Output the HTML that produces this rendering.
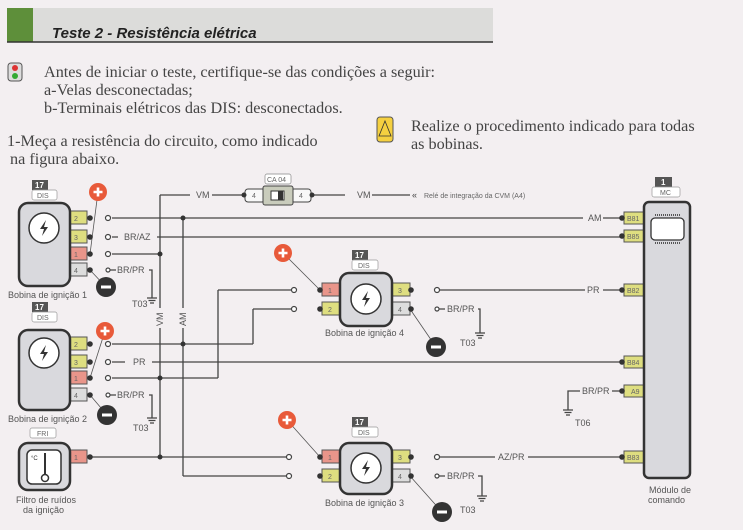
<!DOCTYPE html>
<html><head><meta charset="utf-8"><style>
html,body{margin:0;padding:0;background:#f3eff1;}
svg{display:block}
.s{font-family:"Liberation Serif",serif;font-size:16.2px;fill:#444}
.l{font-family:"Liberation Sans",sans-serif;font-size:9px;fill:#555}
.p{font-family:"Liberation Sans",sans-serif;font-size:7px;fill:#666}
</style></head><body>
<svg width="743" height="530" viewBox="0 0 743 530" xmlns="http://www.w3.org/2000/svg">
<defs>
<g id="plus"><circle r="9" fill="#e85a3a"/><path d="M-4.5 0H4.5M0 -4.5V4.5" stroke="#fff" stroke-width="2.6"/></g>
<g id="minus"><circle r="10" fill="#333"/><path d="M-5 0H5" stroke="#fff" stroke-width="3"/></g>
<g id="gnd"><path d="M-5 0H5M-3.5 2.5H3.5M-2 5H2" stroke="#444" stroke-width="1.2"/></g>
<g id="bolt"><path d="M2 -8 L-4 1 L0 1 L-2 8 L4 -1 L0 -1 Z" fill="#333"/></g>
</defs>
<rect width="743" height="530" fill="#f3eff1"/>
<rect x="33" y="8" width="460" height="34" fill="#dcdcda"/>
<rect x="7" y="8" width="26" height="34" fill="#5e8f3a"/>
<line x1="7" y1="42" x2="493" y2="42" stroke="#333" stroke-width="1.5"/>
<text x="52" y="38" font-family="Liberation Sans,sans-serif" font-size="15" font-weight="bold" font-style="italic" fill="#222">Teste 2 - Resistência elétrica</text>
<rect x="8" y="63" width="14" height="18" rx="3" fill="#ddd" stroke="#555"/>
<circle cx="15" cy="68" r="3" fill="#d33"/><circle cx="15" cy="76" r="3" fill="#3a3"/>
<text class="s" x="44" y="77">Antes de iniciar o teste, certifique-se das condições a seguir:</text>
<text class="s" x="44" y="95">a-Velas desconectadas;</text>
<text class="s" x="44" y="113">b-Terminais elétricos das DIS: desconectados.</text>
<text class="s" x="7" y="146">1-Meça a resistência do circuito, como indicado</text>
<text class="s" x="10" y="164">na figura abaixo.</text>
<rect x="377" y="117" width="16" height="25" rx="3" fill="#f5d040" stroke="#555"/>
<path d="M385 121 L391 136 H379 Z" fill="#f5d040" stroke="#333" stroke-width="0.8"/>
<text class="s" x="411" y="131">Realize o procedimento indicado para todas</text>
<text class="s" x="411" y="149">as bobinas.</text>

<g stroke="#444" stroke-width="1.3" fill="none">
<path d="M112 218H583M603 218H624"/>
<path d="M112 237H118M157 237H624"/>
<path d="M112 254H160"/>
<path d="M149 270H152V298"/>
<path d="M160 195V308M160 328V457M183 218V308M183 328V476"/>
<path d="M160 195H190M212 195H245M310 195H345M372 195H410"/>
<path d="M218 290H291M218 290V378"/>
<path d="M253 309H291M253 309V344"/>
<path d="M440 290H585M603 290H624"/>
<path d="M478 309H480V333"/>
<path d="M112 344H253"/>
<path d="M112 362H125M152 362H624"/>
<path d="M112 378H218"/>
<path d="M149 395H152V418"/>
<path d="M90 457H286"/>
<path d="M183 476H286"/>
<path d="M440 457H495M528 457H624"/>
<path d="M478 476H482V496"/>
<path d="M580 391H568V410M612 391H624"/>
</g>
<g stroke="#555" stroke-width="0.8">
<path d="M98 192L90 254M106 287L90 270M105 331L90 378M107 415L90 395M283 253L320 290M436 347L410 309M287 420L320 457M442 512L410 476"/>
</g>
<g fill="#333"><circle cx="160" cy="254" r="2.5"/><circle cx="183" cy="218" r="2.5"/><circle cx="183" cy="344" r="2.5"/><circle cx="160" cy="378" r="2.5"/><circle cx="160" cy="457" r="2.5"/></g>
<g fill="#fff" stroke="#444" stroke-width="1.2">
<circle cx="108" cy="218" r="2.5"/><circle cx="108" cy="237" r="2.5"/><circle cx="108" cy="254" r="2.5"/><circle cx="108" cy="270" r="2"/>
<circle cx="108" cy="344" r="2.5"/><circle cx="108" cy="362" r="2.5"/><circle cx="108" cy="378" r="2.5"/><circle cx="108" cy="395" r="2"/>
<circle cx="294" cy="290" r="2.5"/><circle cx="294" cy="309" r="2.5"/><circle cx="437" cy="290" r="2.5"/><circle cx="437" cy="309" r="2"/>
<circle cx="289" cy="457" r="2.5"/><circle cx="289" cy="476" r="2.5"/><circle cx="437" cy="457" r="2.5"/><circle cx="437" cy="476" r="2"/>
</g>
<path d="M110 270H116M110 395H116M439 309H445M439 476H445" stroke="#444" stroke-width="1.2"/>
<use href="#gnd" x="152" y="298"/><use href="#gnd" x="152" y="418"/><use href="#gnd" x="480" y="333"/><use href="#gnd" x="482" y="496"/><use href="#gnd" x="568" y="410"/>
<g class="l">
<text x="124" y="240">BR/AZ</text><text x="117" y="273">BR/PR</text><text x="132" y="307">T03</text>
<text x="196" y="198">VM</text><text x="357" y="198">VM</text>
<text x="588" y="221">AM</text><text x="587" y="293">PR</text>
<text x="447" y="312">BR/PR</text><text x="460" y="346">T03</text>
<text x="133" y="365">PR</text><text x="117" y="398">BR/PR</text><text x="133" y="431">T03</text>
<text x="582" y="394">BR/PR</text><text x="575" y="426">T06</text>
<text x="498" y="460">AZ/PR</text><text x="447" y="479">BR/PR</text><text x="460" y="513">T03</text>
<text transform="translate(163,326) rotate(-90)">VM</text>
<text transform="translate(186,326) rotate(-90)">AM</text>
</g>
<text x="412" y="198" font-family="Liberation Sans,sans-serif" font-size="9" fill="#444">«</text>
<text class="p" x="424" y="198">Relé de integração da CVM (A4)</text>
<rect x="265" y="174" width="26" height="10" rx="2" fill="#fff" stroke="#888" stroke-width="0.7"/>
<text class="p" x="267" y="182">CA 04</text>
<rect x="245" y="189" width="20" height="13" rx="3" fill="#f8f8f8" stroke="#444"/>
<rect x="291" y="189" width="20" height="13" rx="3" fill="#f8f8f8" stroke="#444"/>
<rect x="263" y="186" width="30" height="19" rx="2" fill="#c9ccbc" stroke="#444"/>
<rect x="271" y="191" width="13" height="9" fill="#fff" stroke="#333"/><rect x="278" y="191" width="5" height="9" fill="#333"/>
<text class="p" x="252" y="198">4</text><text class="p" x="299" y="198">4</text>
<circle cx="244" cy="195" r="2.5" fill="#333"/><circle cx="312" cy="195" r="2.5" fill="#333"/>

<g>
<rect x="32" y="180" width="16" height="10" fill="#555"/><text x="35" y="188" font-family="Liberation Sans" font-size="8" font-weight="bold" fill="#fff">17</text>
<rect x="32" y="190" width="25" height="10" rx="2" fill="#fff" stroke="#999" stroke-width="0.7"/><text class="p" x="37" y="198">DIS</text>
<rect x="68" y="211" width="19" height="13" fill="#dede80" stroke="#555"/><rect x="68" y="230" width="19" height="13" fill="#dede80" stroke="#555"/>
<rect x="68" y="247" width="19" height="13" fill="#e9958a" stroke="#555"/><rect x="68" y="263" width="19" height="13" fill="#ddd" stroke="#555"/>
<text class="p" x="74" y="221">2</text><text class="p" x="74" y="240">3</text><text class="p" x="74" y="257">1</text><text class="p" x="74" y="273">4</text>
<circle cx="90" cy="218" r="2.8" fill="#333"/><circle cx="90" cy="237" r="2.8" fill="#333"/><circle cx="90" cy="254" r="2.8" fill="#333"/><circle cx="90" cy="270" r="2.8" fill="#333"/>
<rect x="19" y="203" width="51" height="83" rx="9" fill="#d9d9dd" stroke="#333" stroke-width="2.5"/>
<circle cx="44" cy="228" r="15" fill="#fff" stroke="#333" stroke-width="1.5"/><use href="#bolt" x="44" y="228"/>
<text class="l" x="8" y="298">Bobina de ignição 1</text>
</g>
<g>
<rect x="32" y="302" width="16" height="10" fill="#555"/><text x="35" y="310" font-family="Liberation Sans" font-size="8" font-weight="bold" fill="#fff">17</text>
<rect x="32" y="312" width="25" height="10" rx="2" fill="#fff" stroke="#999" stroke-width="0.7"/><text class="p" x="37" y="320">DIS</text>
<rect x="68" y="337" width="19" height="13" fill="#dede80" stroke="#555"/><rect x="68" y="355" width="19" height="13" fill="#dede80" stroke="#555"/>
<rect x="68" y="371" width="19" height="13" fill="#e9958a" stroke="#555"/><rect x="68" y="388" width="19" height="13" fill="#ddd" stroke="#555"/>
<text class="p" x="74" y="347">2</text><text class="p" x="74" y="365">3</text><text class="p" x="74" y="381">1</text><text class="p" x="74" y="398">4</text>
<circle cx="90" cy="344" r="2.8" fill="#333"/><circle cx="90" cy="362" r="2.8" fill="#333"/><circle cx="90" cy="378" r="2.8" fill="#333"/><circle cx="90" cy="395" r="2.8" fill="#333"/>
<rect x="19" y="330" width="51" height="80" rx="9" fill="#d9d9dd" stroke="#333" stroke-width="2.5"/>
<circle cx="44" cy="353" r="15" fill="#fff" stroke="#333" stroke-width="1.5"/><use href="#bolt" x="44" y="353"/>
<text class="l" x="8" y="422">Bobina de ignição 2</text>
</g>
<g>
<rect x="30" y="428" width="26" height="10" rx="2" fill="#fff" stroke="#999" stroke-width="0.7"/><text class="p" x="37" y="436">FRI</text>
<rect x="68" y="450" width="19" height="13" fill="#e9958a" stroke="#555"/><text class="p" x="74" y="460">1</text>
<circle cx="90" cy="457" r="2.8" fill="#333"/>
<rect x="19" y="443" width="51" height="47" rx="9" fill="#d9d9dd" stroke="#333" stroke-width="2.5"/>
<rect x="27" y="450" width="34" height="34" rx="5" fill="#fff" stroke="#333" stroke-width="1.5"/>
<text x="31" y="460" font-family="Liberation Sans" font-size="6" fill="#333">°C</text>
<path d="M45 453V475" stroke="#333" stroke-width="2"/><circle cx="45" cy="478" r="3.5" fill="#fff" stroke="#333" stroke-width="1.5"/>
<text class="l" x="16" y="503">Filtro de ruídos</text><text class="l" x="23" y="513">da ignição</text>
</g>
<g>
<rect x="352" y="250" width="16" height="10" fill="#555"/><text x="355" y="258" font-family="Liberation Sans" font-size="8" font-weight="bold" fill="#fff">17</text>
<rect x="352" y="260" width="26" height="10" rx="2" fill="#fff" stroke="#999" stroke-width="0.7"/><text class="p" x="358" y="268">DIS</text>
<rect x="322" y="283" width="20" height="13" fill="#e9958a" stroke="#555"/><rect x="322" y="302" width="20" height="13" fill="#dede80" stroke="#555"/>
<rect x="390" y="283" width="20" height="13" fill="#dede80" stroke="#555"/><rect x="390" y="302" width="20" height="13" fill="#ddd" stroke="#555"/>
<text class="p" x="328" y="293">1</text><text class="p" x="328" y="312">2</text><text class="p" x="398" y="293">3</text><text class="p" x="398" y="312">4</text>
<circle cx="320" cy="290" r="2.8" fill="#333"/><circle cx="320" cy="309" r="2.8" fill="#333"/><circle cx="411" cy="290" r="2.8" fill="#333"/><circle cx="411" cy="309" r="2.8" fill="#333"/>
<rect x="340" y="273" width="52" height="53" rx="9" fill="#d9d9dd" stroke="#333" stroke-width="2.5"/>
<circle cx="366" cy="299" r="15" fill="#fff" stroke="#333" stroke-width="1.5"/><use href="#bolt" x="366" y="299"/>
<text class="l" x="325" y="336">Bobina de ignição 4</text>
</g>
<g>
<rect x="352" y="417" width="16" height="10" fill="#555"/><text x="355" y="425" font-family="Liberation Sans" font-size="8" font-weight="bold" fill="#fff">17</text>
<rect x="352" y="427" width="26" height="10" rx="2" fill="#fff" stroke="#999" stroke-width="0.7"/><text class="p" x="358" y="435">DIS</text>
<rect x="322" y="450" width="20" height="13" fill="#e9958a" stroke="#555"/><rect x="322" y="469" width="20" height="13" fill="#dede80" stroke="#555"/>
<rect x="390" y="450" width="20" height="13" fill="#dede80" stroke="#555"/><rect x="390" y="469" width="20" height="13" fill="#ddd" stroke="#555"/>
<text class="p" x="328" y="460">1</text><text class="p" x="328" y="479">2</text><text class="p" x="398" y="460">3</text><text class="p" x="398" y="479">4</text>
<circle cx="320" cy="457" r="2.8" fill="#333"/><circle cx="320" cy="476" r="2.8" fill="#333"/><circle cx="411" cy="457" r="2.8" fill="#333"/><circle cx="411" cy="476" r="2.8" fill="#333"/>
<rect x="340" y="443" width="52" height="51" rx="9" fill="#d9d9dd" stroke="#333" stroke-width="2.5"/>
<circle cx="366" cy="468" r="15" fill="#fff" stroke="#333" stroke-width="1.5"/><use href="#bolt" x="366" y="468"/>
<text class="l" x="325" y="506">Bobina de ignição 3</text>
</g>
<g>
<rect x="655" y="177" width="17" height="10" fill="#555"/><text x="661" y="185" font-family="Liberation Sans" font-size="8" font-weight="bold" fill="#fff">1</text>
<rect x="652" y="187" width="28" height="10" rx="2" fill="#fff" stroke="#999" stroke-width="0.7"/><text class="p" x="660" y="195">MC</text>
<g fill="#dede80" stroke="#555">
<rect x="624" y="212" width="20" height="12"/><rect x="624" y="230" width="20" height="12"/><rect x="624" y="284" width="20" height="12"/>
<rect x="624" y="356" width="20" height="12"/><rect x="624" y="385" width="20" height="12"/><rect x="624" y="451" width="20" height="12"/></g>
<g class="p" font-size="6"><text x="627" y="221">B81</text><text x="627" y="239">B85</text><text x="627" y="293">B82</text><text x="627" y="365">B84</text><text x="631" y="394">A9</text><text x="627" y="460">B83</text></g>
<g fill="#333"><circle cx="622" cy="218" r="2.8"/><circle cx="622" cy="236" r="2.8"/><circle cx="622" cy="290" r="2.8"/><circle cx="622" cy="362" r="2.8"/><circle cx="622" cy="391" r="2.8"/><circle cx="622" cy="457" r="2.8"/></g>
<rect x="644" y="202" width="46" height="276" rx="5" fill="#d9d9dd" stroke="#333" stroke-width="2.5"/>
<rect x="651" y="218" width="33" height="22" rx="4" fill="#fff" stroke="#333" stroke-width="1.3"/>
<path d="M655 215H680M655 243H680" stroke="#555" stroke-width="2" stroke-dasharray="1 1"/>
<text class="l" x="649" y="493">Módulo de</text><text class="l" x="648" y="503">comando</text>
</g>
<use href="#plus" x="98" y="192"/><use href="#minus" x="106" y="287"/>
<use href="#plus" x="105" y="331"/><use href="#minus" x="107" y="415"/>
<use href="#plus" x="283" y="253"/><use href="#minus" x="436" y="347"/>
<use href="#plus" x="287" y="420"/><use href="#minus" x="442" y="512"/>
</svg>
</body></html>
